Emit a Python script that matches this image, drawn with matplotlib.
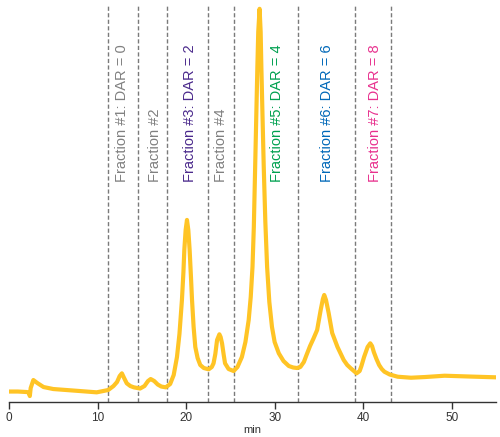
import matplotlib
matplotlib.use("Agg")
import matplotlib.pyplot as plt

plt.rcParams['font.family'] = ['Liberation Sans', 'DejaVu Sans']

# Chromatogram trace (time in min, signal in arbitrary units)
time_min = [0, 1.0, 2.0, 2.25, 2.35, 2.45, 2.75, 3.2, 3.9, 5.0, 6.5, 8.0, 9.9,
            11.2, 11.8, 12.2, 12.5, 12.75, 13.0, 13.3, 13.7, 14.1, 14.8, 15.3,
            15.7, 16.0, 16.4, 16.8, 17.2, 17.7, 18.2, 18.6, 18.97, 19.25, 19.53,
            19.7, 19.8, 19.95, 20.1, 20.25, 20.4, 20.55, 20.67, 20.85, 21.04,
            21.3, 21.6, 22.0, 22.55, 22.9, 23.1, 23.3, 23.5, 23.76, 23.9, 24.06,
            24.25, 24.4, 24.8, 25.37, 25.8, 26.3, 26.7, 27.07, 27.3, 27.5, 27.65,
            27.8, 27.95, 28.05, 28.15, 28.3, 28.42, 28.5, 28.62, 28.77, 28.95,
            29.15, 29.4, 29.7, 30.0, 30.47, 31.0, 31.6, 32.1, 32.55, 32.9, 33.3,
            33.6, 34.0, 34.4, 34.8, 35.2, 35.45, 35.6, 35.8, 36.1, 36.5, 37.1,
            37.8, 38.2, 38.6, 39.25, 39.6, 39.8, 40.1, 40.5, 40.8, 41.0, 41.2,
            41.5, 41.8, 42.1, 42.4, 43.0, 43.9, 45.4, 47.0, 49.2, 52.0, 55.0]
signal = [10.5, 10.5, 10, 9.5, 6, 14, 22, 19, 15, 13, 12, 11, 9.7,
          12, 16, 20, 26, 28.7, 24, 18.7, 16, 14.7, 13.5, 16,
          21, 23, 21, 17.5, 15.5, 14.7, 18, 27, 45, 68, 102,
          130, 152, 172, 182, 172, 152, 125, 102, 75, 55,
          44, 37, 34, 32.7, 35, 38.7, 48, 62, 67.7, 65, 58.7,
          47, 38.7, 33, 31, 35, 45, 60, 82, 105, 135, 175,
          235, 295, 335, 370, 393, 370, 335, 290, 235, 180,
          135, 100, 75, 60, 48.7, 41, 36, 34.5, 34, 35, 40,
          47, 56, 63.7, 72, 92, 103, 107, 102, 89, 69, 55,
          42, 37, 33.7, 28.7, 31, 36, 45, 55, 58.7, 56, 50,
          43, 37, 33, 30.3, 27.5, 25.3, 24.3, 25, 26.3, 25.5, 24.7]

# Fraction boundaries (min)
boundaries = [11.2, 14.6, 17.9, 22.5, 25.45, 32.6, 39.1, 43.1]

# Fraction labels
labels = ["Fraction #1: DAR = 0", "Fraction #2", "Fraction #3: DAR = 2",
          "Fraction #4", "Fraction #5: DAR = 4", "Fraction #6: DAR = 6",
          "Fraction #7: DAR = 8"]
label_colors = ["#808080", "#808080", "#4B2A8C", "#808080", "#00A050",
                "#0068B8", "#E8318E"]
label_x = [12.8, 16.5, 20.4, 23.9, 30.3, 35.9, 41.3]

x_ticks = [0, 10, 20, 30, 40, 50]

fig = plt.figure(figsize=(5.0, 4.37), dpi=100)
ax = fig.add_axes([0.018, 0.080, 0.974, 0.909])

for b in boundaries:
    ax.axvline(b, color="#7a7a7a", lw=1.0, ls=(0, (3.0, 1.7)), zorder=1)

ax.plot(time_min, signal, color="#FFC425", lw=3.0, solid_joinstyle="round",
        solid_capstyle="round", zorder=3)

for lab, col, xp in zip(labels, label_colors, label_x):
    ax.text(xp, 220, lab, rotation=90, ha="center", va="bottom",
            color=col, fontsize=10.5, zorder=4)

ax.set_xlim(0, 55)
ax.set_ylim(0, 397)
ax.set_xticks(x_ticks)
ax.set_xticklabels([str(v) for v in x_ticks])
ax.set_yticks([])
for s in ["left", "right", "top"]:
    ax.spines[s].set_visible(False)
ax.spines["bottom"].set_color("#333333")
ax.spines["bottom"].set_linewidth(1.0)
ax.tick_params(axis="x", direction="out", length=5, width=1.0,
               colors="#333333", labelsize=8.5, pad=2)
ax.set_xlabel("min", fontsize=8, color="#333333", labelpad=1)

fig.savefig("out.png", dpi=100)
